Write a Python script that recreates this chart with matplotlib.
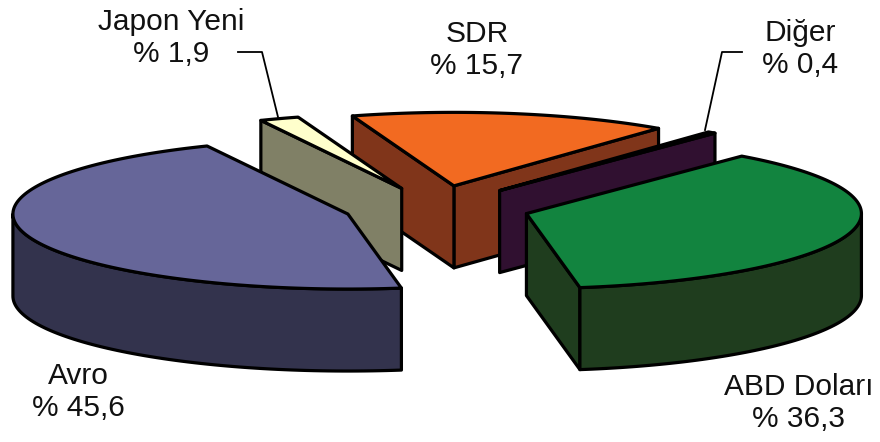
import numpy as np
import matplotlib
matplotlib.use("Agg")
import matplotlib.pyplot as plt
from matplotlib.patches import Polygon

# ---- data ----
labels = ["ABD Doları", "Avro", "Japon Yeni", "SDR", "Diğer"]
values = [36.3, 45.6, 1.9, 15.7, 0.4]
pct_text = ["% 36,3", "% 45,6", "% 1,9", "% 15,7", "% 0,4"]
top_colors = ["#12843f", "#666699", "#ffffcc", "#f26a21", "#5a1a5a"]
side_colors = ["#1f3d1e", "#33334d", "#808066", "#80351a", "#301030"]
explode = [0.28, 0.275, 0.28, 0.30, 0.30]
radius_scale = [1.0, 1.0, 1.0, 0.98, 1.0]

# ---- layout (pixel space) ----
W, H = 880, 442
cx, cy = 436, 208      # pie centre
ra, rb = 335, 75       # ellipse semi axes
depth = 82
start_angle = 50.0
lw = 2.3

fig = plt.figure(figsize=(W / 100, H / 100), dpi=100)
ax = fig.add_axes([0, 0, 1, 1])
ax.set_xlim(0, W)
ax.set_ylim(H, 0)
ax.axis("off")

total = sum(values)
slices = []
hi = start_angle
for i, v in enumerate(values):
    lo = hi - v / total * 360.0
    mid = np.radians((lo + hi) / 2)
    px = cx + explode[i] * ra * np.cos(mid)
    py = cy - explode[i] * rb * np.sin(mid)
    slices.append(dict(i=i, lo=lo, hi=hi, px=px, py=py, mid=mid))
    hi = lo


def rim(s, t_deg):
    t = np.radians(t_deg)
    k = radius_scale[s["i"]]
    return s["px"] + k * ra * np.cos(t), s["py"] - k * rb * np.sin(t)


def poly(pts, fc, z):
    ax.add_patch(Polygon(pts, closed=True, facecolor=fc, edgecolor="black",
                         linewidth=lw, joinstyle="round", zorder=z))


# painter order: back (large sin(mid)) first
order = sorted(slices, key=lambda s: -np.sin(s["mid"]))
for k, s in enumerate(order):
    i = s["i"]
    z = 10 + k * 5
    P = (s["px"], s["py"])
    # visible radial walls
    for ang, vis in ((s["lo"], np.cos(np.radians(s["lo"])) > 0),
                     (s["hi"], np.cos(np.radians(s["hi"])) < 0)):
        if vis:
            R = rim(s, ang)
            poly([P, R, (R[0], R[1] + depth), (P[0], P[1] + depth)], side_colors[i], z)
    # front outer wall
    for kk in range(-2, 3):
        a0 = max(s["lo"], 180 + 360 * kk)
        a1 = min(s["hi"], 360 + 360 * kk)
        if a1 > a0:
            ts = np.linspace(a0, a1, 80)
            top = [rim(s, t) for t in ts]
            bot = [(x, y + depth) for x, y in top[::-1]]
            poly(top + bot, side_colors[i], z + 1)
    # top face
    ts = np.linspace(s["lo"], s["hi"], 120)
    pts = [P] + [rim(s, t) for t in ts]
    poly(pts, top_colors[i], z + 2)

# ---- labels ----
font = dict(family=["Liberation Sans", "DejaVu Sans"], fontsize=21.5,
            color="#111111", ha="center", va="center", multialignment="center",
            linespacing=1.2)
label_pos = [(799, 403), (78, 392), (171, 38), (477, 50), (800, 49)]
for i in range(len(labels)):
    ax.text(label_pos[i][0], label_pos[i][1], labels[i] + "\n" + pct_text[i],
            zorder=50, **font)

# leader lines
ax.plot([238, 262, 278], [52, 52, 117], color="black", lw=1.3, zorder=60)
ax.plot([742, 722, 705], [52, 52, 130], color="black", lw=1.3, zorder=60)

fig.savefig("out.png", dpi=100)
